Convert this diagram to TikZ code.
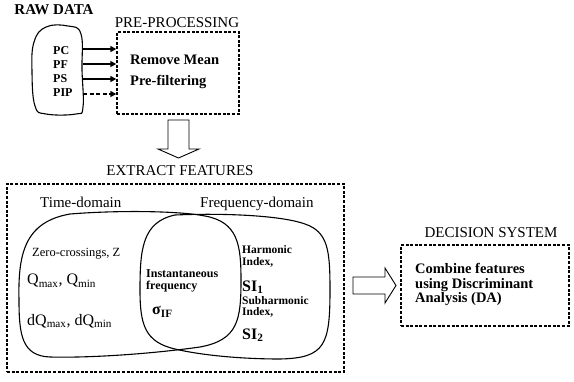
\documentclass[tikz,border=0pt]{standalone}
\usepackage{fontspec}
\setmainfont{Liberation Serif}
\usetikzlibrary{arrows.meta}
\newcommand{\myfs}[1]{\fontsize{#1}{#1}\selectfont}
\begin{document}
\begin{tikzpicture}[x=1pt,y=-1pt,
  dbox/.style={draw, line width=1.4pt, dash pattern=on 3pt off 1.6pt, inner sep=0pt},
  lbl/.style={inner sep=0pt, anchor=west, align=left},
  head/.style={inner sep=0pt, font=\myfs{15}},
  venn/.style={line width=1.1pt},
  feed/.style={line width=1.6pt, -{Triangle[length=6pt,width=6pt]}},
  hollow/.style={draw, line width=0.9pt, fill=white, line join=miter}]
\useasboundingbox (0,0) rectangle (574,381);

% titles
\node[head, font=\myfs{15}\bfseries] (rawt) at (54,10) {RAW DATA};
\node[head] (pret) at (177,23) {PRE-PROCESSING};
\node[head] (extt) at (180,171) {EXTRACT FEATURES};
\node[head] (dect) at (491,233) {DECISION SYSTEM};

% raw data blob
\draw[line width=1.1pt] plot[smooth cycle, tension=0.7] coordinates
  {(34,42) (46,27) (68,26) (81,34) (82,70) (83,107) (76,114) (46,114) (35,106) (32,72)};
\node[lbl, font=\myfs{12}\bfseries] (pc) at (53,51) {PC};
\node[lbl, font=\myfs{12}\bfseries] (pf) at (53,65) {PF};
\node[lbl, font=\myfs{12}\bfseries] (ps) at (53,79) {PS};
\node[lbl, font=\myfs{12}\bfseries] (pip) at (53,93) {PIP};
\coordinate (s1) at (83,49);
\coordinate (s2) at (83,64);
\coordinate (s3) at (83,79);
\coordinate (s4) at (83,94);

% pre-processing box
\node[dbox, minimum width=122pt, minimum height=82pt] (pre) at (178,73) {};
\node[lbl, font=\myfs{14.5}\bfseries] (rm) at (130,60) {Remove Mean};
\node[lbl, font=\myfs{14.5}\bfseries] (pfl) at (130,82) {Pre-filtering};

\draw[feed] (s1) -- (s1 -| pre.west);
\draw[feed] (s2) -- (s2 -| pre.west);
\draw[feed] (s3) -- (s3 -| pre.west);
\draw[feed, dash pattern=on 4pt off 2.5pt] (s4) -- (s4 -| pre.west);

% down hollow arrow
\draw[hollow] (168,120) -- (189,120) -- (189,149) -- (199,149) -- (178.5,158)
  -- (158,149) -- (168,149) -- cycle;

% extract features box
\node[dbox, minimum width=337pt, minimum height=188pt] (ext) at (175.5,278) {};
\draw[venn] (19,300) .. controls (18,255) and (24,222) .. (70,214)
  .. controls (120,210) and (180,211) .. (205,216)
  .. controls (238,222) and (241,245) .. (241,280)
  .. controls (241,320) and (238,340) .. (200,347)
  .. controls (150,354) and (90,358) .. (50,357)
  .. controls (22,356) and (19,335) .. (19,300) -- cycle;
\draw[venn] (140,290) .. controls (140,250) and (142,222) .. (175,215)
  .. controls (220,213) and (280,215) .. (305,224)
  .. controls (328,232) and (330,250) .. (330,290)
  .. controls (330,345) and (325,358) .. (280,359)
  .. controls (240,359) and (200,355) .. (175,349)
  .. controls (145,342) and (140,325) .. (140,290) -- cycle;

\node[lbl, font=\myfs{15}] (td) at (40,202) {Time-domain};
\node[lbl, font=\myfs{15}] (fd) at (200,204) {Frequency-domain};
\node[lbl, font=\myfs{12.5}] (zc) at (32,254) {Zero-crossings, Z};
\node[lbl, font=\myfs{16}] (q) at (27,281) {Q\textsubscript{max}, Q\textsubscript{min}};
\node[lbl, font=\myfs{16}] (dq) at (27,321) {dQ\textsubscript{max}, dQ\textsubscript{min}};
\node[lbl, font=\myfs{12}\bfseries] (inf) at (146,281) {Instantaneous\\frequency};
\node[lbl, font=\myfs{16}\bfseries] (sig) at (152,312) {σ\textsubscript{IF}};
\node[lbl, font=\myfs{11.5}\bfseries] (hi) at (242,256.5) {Harmonic\\Index,};
\node[lbl, font=\myfs{16}\bfseries] (si1) at (242,287) {SI\textsubscript{1}};
\node[lbl, font=\myfs{11.5}\bfseries] (shi) at (242,307) {Subharmonic\\Index,};
\node[lbl, font=\myfs{16}\bfseries] (si2) at (242,335) {SI\textsubscript{2}};

% right hollow arrow
\draw[hollow] (353,277) -- (385,277) -- (385,268) -- (396,285.5) -- (385,303)
  -- (385,294) -- (353,294) -- cycle;

% decision box
\node[dbox, minimum width=168pt, minimum height=81pt] (dec) at (485,285.5) {};
\node[lbl, font=\myfs{14.5}\bfseries, align=left] (comb) at (415,284.5)
  {\baselineskip=16pt Combine features\\using Discriminant\\Analysis (DA)};
\end{tikzpicture}
\end{document}
